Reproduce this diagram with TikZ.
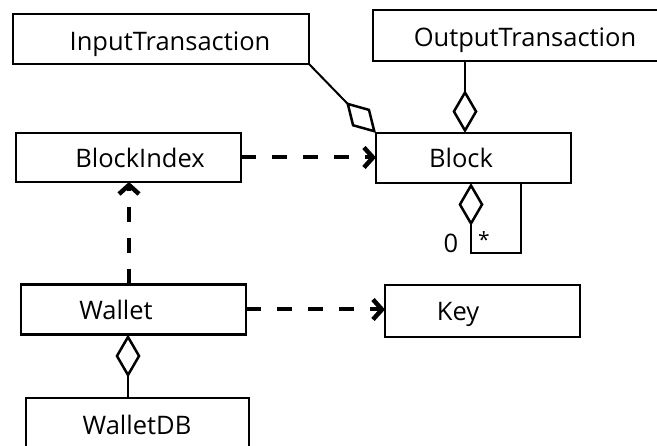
\documentclass[tikz,border=0pt]{standalone}
\usepackage{fontspec}
\setmainfont{Open Sans}
\usetikzlibrary{arrows.meta}
\begin{document}
\begin{tikzpicture}[x=1pt,y=-1pt,
  box/.style={draw, line width=2.5pt, inner sep=0pt, outer sep=0pt, line join=miter},
  lab/.style={font=\fontsize{25.5}{30}\selectfont, anchor=base, inner sep=0pt},
  agg/.style={line width=2pt, -{Diamond[open,length=43pt,width=25pt,line width=2.5pt]}},
  dep/.style={line width=4pt, dash pattern=on 15pt off 16pt, -{Straight Barb[length=9pt,width=20pt,line width=4.5pt]}}]
\useasboundingbox (0,0) rectangle (657,446);
% boxes
\node[box, minimum width=296pt, minimum height=50pt] (it) at (161,39) {};
\node[box, minimum width=307pt, minimum height=51pt] (ot) at (526.5,35.5) {};
\node[box, minimum width=225pt, minimum height=49pt] (bi) at (128.5,157.5) {};
\node[box, minimum width=195pt, minimum height=50pt] (block) at (473.5,158) {};
\node[box, minimum width=225pt, minimum height=50pt] (wallet) at (133.5,309.5) {};
\node[box, minimum width=195pt, minimum height=52pt] (key) at (482.5,311) {};
\node[box, minimum width=223pt, minimum height=50pt] (wdb) at (137.5,423) {};
% texts
\node[lab] (itT) at (170,50.5) {InputTransaction};
\node[lab] (otT) at (525,47) {OutputTransaction};
\node[lab] (biT) at (140,168) {BlockIndex};
\node[lab] (blockT) at (461,168) {Block};
\node[lab] (walletT) at (116,320) {Wallet};
\node[lab] (keyT) at (458,321) {Key};
\node[lab] (wdbT) at (137,435) {WalletDB};
% helper x positions
\coordinate (ox) at (465,0);
\coordinate (bx1) at (471,0);
\coordinate (bx2) at (521,0);
\coordinate (by) at (0,253);
\coordinate (wx) at (128,0);
\coordinate (wx2) at (129,0);
% aggregations
\draw[agg] (it.south east) -- (block.north west);
\draw[agg] (ot.south -| ox) -- (block.north -| ox);
\draw[agg] (wdb.north -| wx) -- (wallet.south -| wx);
\draw[line width=2pt, line join=miter, {Diamond[open,length=43pt,width=25pt,line width=2.5pt]}-]
  (block.south -| bx1) -- (bx1 |- by) -- (bx2 |- by) -- (block.south -| bx2);
\node[font=\fontsize{25.5}{28}\selectfont, inner sep=0pt, anchor=base] (zero) at (451,253) {0};
\node[font=\fontsize{21}{24}\selectfont, inner sep=0pt] (star) at (484,240) {*};
% dependencies
\draw[dep] (bi.east) -- (block.west |- bi.east);
\draw[dep] (wallet.north -| wx2) -- (bi.south -| wx2);
\draw[dep] (wallet.east) -- (key.west |- wallet.east);
\end{tikzpicture}
\end{document}
